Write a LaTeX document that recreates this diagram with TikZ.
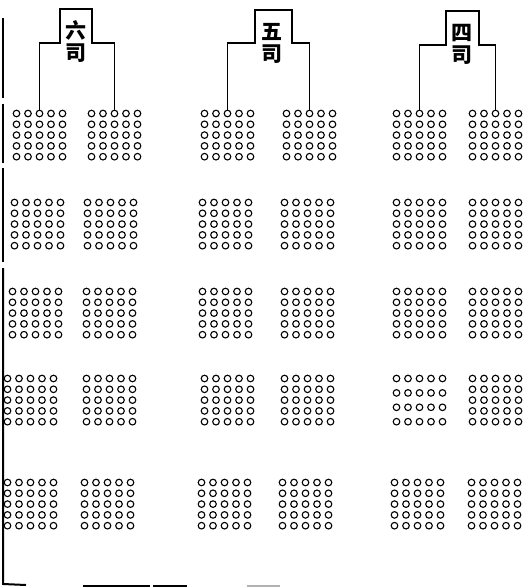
\documentclass[tikz,border=0pt]{standalone}
\usepackage{fontspec}
\newfontfamily\cjk{Noto Sans CJK TC}

\tikzset{
  ring/.style={line width=1.1pt},
  frame/.style={line width=1.4pt},
  rule/.style={line width=2pt},
  sitag/.style={font=\cjk\bfseries\fontsize{21}{22}\selectfont, align=center, inner sep=0pt}
}

\begin{document}
\begin{tikzpicture}[x=1pt,y=-1pt]
\useasboundingbox (0,0) rectangle (527,588);

% left edge and bottom rule of the page
\draw[rule] (3,18) -- (3,98);
\draw[rule] (3,104) -- (3,163);
\draw[rule] (3,168) -- (3,262);
\draw[rule] (3,268) -- (3,584) -- (26,585);
\draw[rule] (83,586) -- (150,586);
\draw[rule] (153,586) -- (187,586);
\draw[line width=1.2pt, gray!60] (247,586) -- (280,586);

% grids of rings: left x / top y / name / rows
\foreach \gx/\gy/\gn/\gr in {
    12/109/A1/5, 10/198/A2/5, 8/287/A3/5, 3/374/A4/5, 3/478/A5/5,
    87/109/B1/5, 83/198/B2/5, 82/287/B3/5, 82/374/B4/5, 80/478/B5/5,
    200/109/C1/5, 198/198/C2/5, 198/287/C3/5, 200/374/C4/5, 197/478/C5/5,
    282/109/D1/5, 280/198/D2/5, 280/287/D3/5, 280/374/D4/5, 278/478/D5/5,
    392/109/E1/5, 392/198/E2/5, 392/287/E3/5, 392/374/E4/4, 390/478/E5/5,
    468/109/F1/5, 468/198/F2/5, 468/287/F3/5, 468/374/F4/5, 467/478/F5/5}{
  \pgfmathsetmacro\gs{43.2/(\gr-1)}
  \coordinate (\gn) at (\gx+27.5,\gy+1.5);
  \foreach \i in {0,...,4}
    \foreach \j in {1,...,\gr}
      \draw[ring] (\gx+4.5+11.5*\i, \gy+4.5+\gs*\j-\gs) circle (3.3pt);
}

% 六司
\node[sitag] (six) at (76,42) {六\\司};
\coordinate (six-sw) at (60,43);
\coordinate (six-ne) at (92,9);
\draw[frame] (A1) |- (six-sw) |- (six-ne) -- (six-ne |- six-sw) -| (B1);

% 五司
\node[sitag] (five) at (272,43) {五\\司};
\coordinate (five-sw) at (255,43);
\coordinate (five-ne) at (292,10);
\draw[frame] (C1) |- (five-sw) |- (five-ne) -- (five-ne |- five-sw) -| (D1);

% 四司
\node[sitag] (four) at (462,44) {四\\司};
\coordinate (four-sw) at (446,45);
\coordinate (four-ne) at (479,11);
\draw[frame] (E1) |- (four-sw) |- (four-ne) -- (four-ne |- four-sw) -| (F1);
\end{tikzpicture}
\end{document}
